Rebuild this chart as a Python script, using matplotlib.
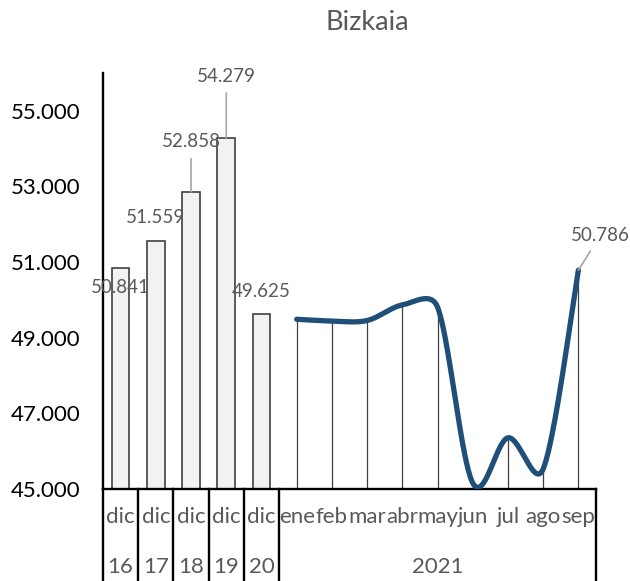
import numpy as np
import matplotlib
matplotlib.use('Agg')
import matplotlib.pyplot as plt
from matplotlib.transforms import blended_transform_factory

# data
bar_cats = ['dic', 'dic', 'dic', 'dic', 'dic']
bar_years = ['16', '17', '18', '19', '20']
bar_values = [50841, 51559, 52858, 54279, 49625]
months = ['ene', 'feb', 'mar', 'abr', 'may', 'jun', 'jul', 'ago', 'sep']
month_year = '2021'
month_values = [49488, 49442, 49455, 49867, 49810, 45160, 46354, 45531, 50786]

# label offsets in pixels (dy) for the bar value labels, and which get a leader line
bar_label_dy = [-19, 23, 50, 62, 23]
bar_label_leader = [False, False, True, True, False]

GREY = '#595959'


def fmt(v):
    return f'{v:,.0f}'.replace(',', '.')


def smooth(ax, xv, yv, steps=40):
    # Excel-like smoothed line: bezier through the points, worked out in pixel
    # space, with each control arm capped at half the segment length
    p = ax.transData.transform(np.column_stack([xv, yv]).astype(float))
    ext = np.vstack([p[0], p, p[-1]])
    t = np.linspace(0, 1, steps)[:, None]
    out = []
    for i in range(len(p) - 1):
        p0, p1, p2, p3 = ext[i], ext[i + 1], ext[i + 2], ext[i + 3]
        half = np.linalg.norm(p2 - p1) / 2
        a1 = (p2 - p0) / 6
        a2 = (p3 - p1) / 6
        if np.linalg.norm(a1) > half:
            a1 = a1 / np.linalg.norm(a1) * half
        if np.linalg.norm(a2) > half:
            a2 = a2 / np.linalg.norm(a2) * half
        c1 = p1 + a1
        c2 = p2 - a2
        seg = (1 - t) ** 3 * p1 + 3 * (1 - t) ** 2 * t * c1 + 3 * (1 - t) * t ** 2 * c2 + t ** 3 * p2
        out.append(seg if i == 0 else seg[1:])
    pts = ax.transData.inverted().transform(np.vstack(out))
    return pts[:, 0], pts[:, 1]


plt.rcParams['font.family'] = ['Lato', 'DejaVu Sans']

fig = plt.figure(figsize=(6.3, 5.81), dpi=100)
ax = fig.add_axes([103 / 630, 92 / 581, 493 / 630, 416 / 581])

x_bar = np.arange(len(bar_values))
x_line = np.arange(len(bar_values), len(bar_values) + len(months))

ax.set_xlim(-0.5, len(bar_values) + len(months) - 0.5)
ax.set_ylim(45000, 56000)

ax.bar(x_bar, bar_values, width=0.5, color='#f2f2f2', edgecolor='#404040', linewidth=1.2, zorder=2)

ax.vlines(x_line, 45000, month_values, color='#404040', linewidth=0.9, zorder=2)
sx, sy = smooth(ax, x_line, month_values)
ax.plot(sx, sy, color='#1f4e79', linewidth=3.8, solid_capstyle='round', zorder=3)

yt = list(range(45000, 55001, 2000))
ax.set_yticks(yt)
ax.set_yticklabels([fmt(v) for v in yt])
ax.tick_params(axis='y', length=0, pad=16, labelsize=16, labelcolor='black')
ax.set_xticks([])

for s in ['top', 'right']:
    ax.spines[s].set_visible(False)
ax.spines['left'].set_linewidth(1.7)
ax.spines['bottom'].set_linewidth(1.7)

# bar value labels
for i, v in enumerate(bar_values):
    kw = {}
    if bar_label_leader[i]:
        kw['arrowprops'] = dict(arrowstyle='-', color='#a6a6a6', linewidth=1.2,
                                shrinkA=4, shrinkB=0)
    ax.annotate(fmt(v), xy=(x_bar[i], v), xytext=(0, bar_label_dy[i]),
                textcoords='offset pixels', ha='center', va='center',
                fontsize=13.5, color=GREY, zorder=5, **kw)

# last line value label
ax.annotate(fmt(month_values[-1]), xy=(x_line[-1], month_values[-1]), xytext=(22, 35),
            textcoords='offset pixels', ha='center', va='center', fontsize=13.5, color=GREY,
            annotation_clip=False,
            arrowprops=dict(arrowstyle='-', color='#a6a6a6', linewidth=1.2, shrinkA=4, shrinkB=0))

# category table under the axis
tr = blended_transform_factory(ax.transData, ax.transAxes)
edges = list(np.arange(len(bar_values) + 1) - 0.5) + [len(bar_values) + len(months) - 0.5]
for e in edges:
    ax.plot([e, e], [0, -0.3], transform=tr, color='black', linewidth=1.7, clip_on=False)

for i, (c, y) in enumerate(zip(bar_cats, bar_years)):
    ax.text(x_bar[i], -0.082, c, transform=tr, ha='center', va='baseline', fontsize=16, color=GREY)
    ax.text(x_bar[i], -0.202, y, transform=tr, ha='center', va='baseline', fontsize=16, color=GREY)
for i, m in enumerate(months):
    ax.text(x_line[i], -0.082, m, transform=tr, ha='center', va='baseline', fontsize=16, color=GREY)
ax.text(x_line.mean(), -0.202, month_year, transform=tr, ha='center', va='baseline',
        fontsize=16, color=GREY)

fig.text(367 / 630, 1 - 23 / 581, 'Bizkaia', ha='center', va='center', fontsize=19.5, color=GREY)

fig.savefig('out.png', dpi=100)
